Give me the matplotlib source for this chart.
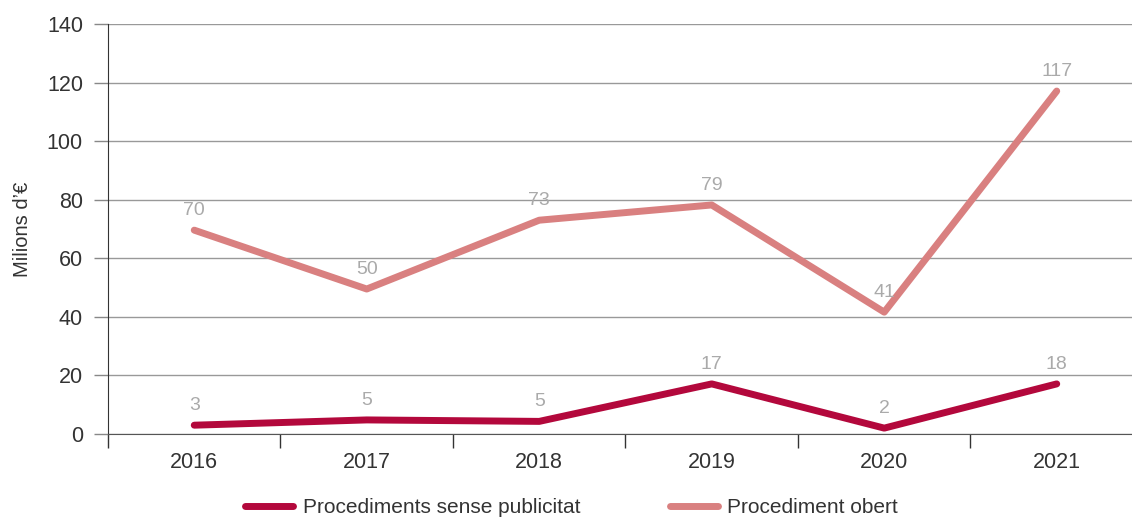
import matplotlib.pyplot as plt
import numpy as np

plt.rcParams['font.family'] = ['Liberation Sans', 'DejaVu Sans']

years = ["2016", "2017", "2018", "2019", "2020", "2021"]
sense = [3.0, 4.8, 4.3, 17.1, 2.0, 17.1]
sense_lbl = ["3", "5", "5", "17", "2", "18"]
obert = [69.6, 49.5, 73.0, 78.2, 41.6, 117.1]
obert_lbl = ["70", "50", "73", "79", "41", "117"]

c_sense = "#b3083c"
c_obert = "#d98080"
txt = "#333333"

fig = plt.figure(figsize=(11.32, 5.18), dpi=100)
ax = fig.add_axes([0.0954, 0.1622, 0.9143, 0.7915])

x = np.arange(len(years))
ax.plot(x, sense, color=c_sense, lw=5, solid_capstyle="round", label="Procediments sense publicitat", zorder=3)
ax.plot(x, obert, color=c_obert, lw=5, solid_capstyle="round", label="Procediment obert", zorder=3)

for xi, v, s in zip(x, sense, sense_lbl):
    ax.annotate(s, (xi, v), xytext=(0, 8), textcoords="offset points", ha="center", va="bottom",
                color="#aaaaaa", fontsize=14)
for xi, v, s in zip(x, obert, obert_lbl):
    ax.annotate(s, (xi, v), xytext=(0, 8), textcoords="offset points", ha="center", va="bottom",
                color="#aaaaaa", fontsize=14)

ax.set_xlim(-0.5, 5.5)
ax.set_ylim(0, 140)
ax.set_yticks(range(0, 141, 20))
ax.set_xticks(x)
ax.set_xticklabels(years)
ax.set_xticks(np.arange(-0.5, 5.6, 1), minor=True)
ax.tick_params(axis="x", which="major", length=0, pad=13, labelsize=15.5, labelcolor=txt)
ax.tick_params(axis="x", which="minor", length=10, width=1, color="#333333")
ax.tick_params(axis="y", length=10, width=1, color="#888888", labelsize=15.5, labelcolor=txt, pad=8)
ax.grid(axis="y", color="#999999", lw=1)
ax.set_axisbelow(True)
for s in ["top", "right"]:
    ax.spines[s].set_visible(False)
ax.spines["left"].set_color("#333333")
ax.spines["bottom"].set_color("#555555")
ax.set_ylabel("Milions d’€", fontsize=14.5, color=txt, labelpad=11)

fig.legend(loc="lower center", bbox_to_anchor=(0.505, -0.035), ncol=2, frameon=False,
           fontsize=15, handlelength=2.3, columnspacing=4.3, handletextpad=0.45, labelcolor=txt)

fig.savefig("out.png", dpi=100)
